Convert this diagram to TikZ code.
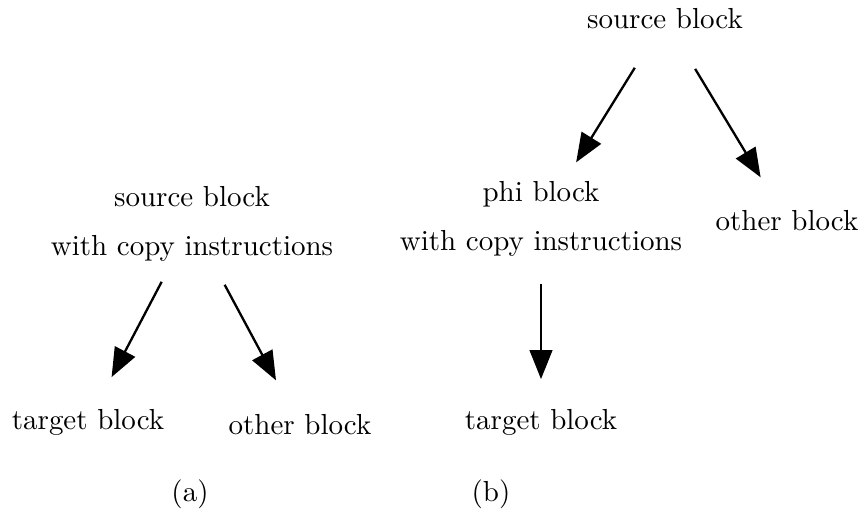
\documentclass[tikz,border=0pt]{standalone}
\usetikzlibrary{arrows.meta}
\begin{document}
\begin{tikzpicture}[x=0.345pt,y=-0.345pt,
  lbl/.style={inner sep=0pt,align=center},
  edge/.style={line width=0.8pt,-{Triangle[length=10pt,width=7.8pt]}}]
\useasboundingbox (0,0) rectangle (863,527);
% (a)
\node[lbl] (asrc) at (192,224) {source block\\[4.8pt]with copy instructions};
\node[lbl] (atgt) at (88,422) {target block};
\node[lbl] (aoth) at (300,425) {other block};
\node[lbl] (acap) at (190,494) {(a)};
\draw[edge,shorten <=22.5pt,shorten >=17.5pt] (asrc.center) -- (atgt.center);
\draw[edge,shorten <=23.8pt,shorten >=17.5pt] (asrc.center) -- (aoth.center);
% (b)
\node[lbl] (bsrc) at (665,19) {source block};
\node[lbl] (bphi) at (541,219) {phi block\\[4.8pt]with copy instructions};
\node[lbl] (both) at (787,221) {other block};
\node[lbl] (btgt) at (541,422) {target block};
\node[lbl] (bcap) at (491,494) {(b)};
\draw[edge,shorten <=19.8pt,shorten >=23pt] (bsrc.center) -- (bphi.center);
\draw[edge,shorten <=20.1pt,shorten >=17.6pt] (bsrc.center) -- (both.center);
\draw[edge,shorten <=22.3pt,shorten >=14.8pt] (bphi.center) -- (btgt.center);
\end{tikzpicture}
\end{document}
